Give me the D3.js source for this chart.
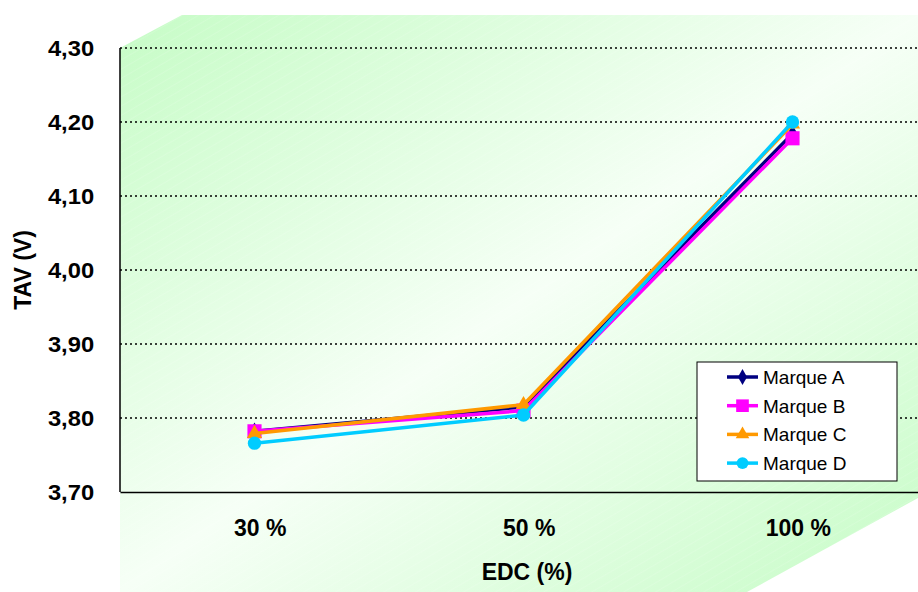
<!DOCTYPE html>
<html>
<head>
<meta charset="utf-8">
<script src="https://cdn.jsdelivr.net/npm/d3@7"></script>
<style>
  html, body { margin: 0; padding: 0; background: #ffffff; }
  svg { display: block; font-family: Arial, "Liberation Sans", sans-serif; }
</style>
</head>
<body>
<svg id="chart" width="918" height="592"></svg>
<script>
// Data
const categories = ['30 %', '50 %', '100 %'];
const yTicks = [3.7, 3.8, 3.9, 4.0, 4.1, 4.2, 4.3];
const seriesNames = ['Marque A', 'Marque B', 'Marque C', 'Marque D'];
const marqueA = [3.782, 3.815, 4.184];
const marqueB = [3.782, 3.810, 4.178];
const marqueC = [3.779, 3.818, 4.197];
const marqueD = [3.766, 3.804, 4.200];

const seriesStyle = [
  { color: '#000080', symbol: d3.symbolDiamond, size: 90 },
  { color: '#ff00ff', symbol: d3.symbolSquare, size: 200 },
  { color: '#ff9900', symbol: d3.symbolTriangle, size: 100 },
  { color: '#00ccff', symbol: d3.symbolCircle, size: 140 }
];
const seriesValues = [marqueA, marqueB, marqueC, marqueD];

const width = 918, height = 592;
const margin = { top: 48, left: 120, bottom: 100 };
const plotBottom = height - margin.bottom;

const svg = d3.select('#chart');
const defs = svg.append('defs');

// Background gradient (light green at corners, almost white in the middle)
const grad = defs.append('linearGradient')
  .attr('id', 'bg').attr('x1', '0').attr('y1', '0').attr('x2', '1').attr('y2', '1');
grad.append('stop').attr('offset', '0%').attr('stop-color', '#c6fcc6');
grad.append('stop').attr('offset', '50%').attr('stop-color', '#f6fff6');
grad.append('stop').attr('offset', '100%').attr('stop-color', '#c6fcc6');

const hatch = defs.append('pattern')
  .attr('id', 'hatch').attr('width', 8).attr('height', 8)
  .attr('patternUnits', 'userSpaceOnUse')
  .attr('patternTransform', 'rotate(-30)');
hatch.append('line')
  .attr('x1', 0).attr('y1', 0).attr('x2', 8).attr('y2', 0)
  .attr('stroke', '#ffffff').attr('stroke-opacity', 0.25).attr('stroke-width', 1);

const bgShape = [[120, 48], [182, 15], [918, 15], [918, 498], [747, 592], [120, 592]];
svg.append('polygon')
  .attr('points', bgShape.map(p => p.join(',')).join(' '))
  .attr('fill', 'url(#bg)');
svg.append('polygon')
  .attr('points', bgShape.map(p => p.join(',')).join(' '))
  .attr('fill', 'url(#hatch)');

// Scales
const x = d3.scaleBand().domain(categories).range([margin.left, 927]).padding(0);
const y = d3.scaleLinear().domain([3.7, 4.3]).range([plotBottom, margin.top]);

// Gridlines
svg.append('g')
  .selectAll('line')
  .data(yTicks.slice(1))
  .join('line')
  .attr('x1', margin.left).attr('x2', width)
  .attr('y1', d => y(d)).attr('y2', d => y(d))
  .attr('stroke', '#000000')
  .attr('stroke-width', 1.5)
  .attr('stroke-dasharray', '2,3');

// Y axis
const yAxis = svg.append('g')
  .attr('transform', `translate(${margin.left},0)`)
  .call(d3.axisLeft(y).tickValues(yTicks).tickSize(0).tickPadding(24)
    .tickFormat(d => d3.format('.2f')(d).replace('.', ',')));
yAxis.select('.domain').remove();
yAxis.selectAll('text')
  .attr('fill', '#000')
  .style('font-size', '22px')
  .style('font-weight', 'bold')
  .attr('transform', 'scale(1.08,1)')
  .attr('dy', '0.35em');

svg.append('line')
  .attr('x1', margin.left).attr('x2', margin.left)
  .attr('y1', margin.top).attr('y2', plotBottom)
  .attr('stroke', '#000').attr('stroke-width', 1.5);

// X axis
const xAxis = svg.append('g')
  .attr('transform', `translate(0,${plotBottom})`)
  .call(d3.axisBottom(x).tickSize(0).tickPadding(28));
xAxis.select('.domain').attr('stroke', '#000').attr('stroke-width', 1.5);
xAxis.selectAll('text')
  .attr('fill', '#000')
  .style('font-size', '23px')
  .style('font-weight', 'bold')
  .attr('dx', '0.25em');

// Axis titles
svg.append('text')
  .attr('transform', 'translate(31,270) rotate(-90)')
  .attr('text-anchor', 'middle')
  .style('font-size', '23px')
  .style('font-weight', 'bold')
  .text('TAV (V)');

svg.append('text')
  .attr('x', 527).attr('y', 580)
  .attr('text-anchor', 'middle')
  .style('font-size', '23px')
  .style('font-weight', 'bold')
  .text('EDC (%)');

// Series
const cx = c => x(c) + x.bandwidth() / 2;
const line = d3.line().x((d, i) => cx(categories[i])).y(d => y(d));

seriesValues.forEach((vals, s) => {
  const st = seriesStyle[s];
  const g = svg.append('g');
  g.append('path')
    .datum(vals)
    .attr('d', line)
    .attr('fill', 'none')
    .attr('stroke', st.color)
    .attr('stroke-width', 3.5)
    .attr('stroke-linejoin', 'round');
  g.selectAll('path.mk')
    .data(vals)
    .join('path')
    .attr('class', 'mk')
    .attr('d', d3.symbol().type(st.symbol).size(st.size))
    .attr('transform', (d, i) => `translate(${cx(categories[i])},${y(d)})`)
    .attr('fill', st.color);
});

// Legend
const legend = svg.append('g').attr('transform', 'translate(697,362)');
legend.append('rect')
  .attr('width', 200).attr('height', 119)
  .attr('fill', '#ffffff').attr('stroke', '#000').attr('stroke-width', 1);

const items = legend.selectAll('g.item')
  .data(seriesNames)
  .join('g')
  .attr('class', 'item')
  .attr('transform', (d, i) => `translate(0,${15 + i * 28.7})`);
items.append('line')
  .attr('x1', 30).attr('x2', 61)
  .attr('stroke', (d, i) => seriesStyle[i].color)
  .attr('stroke-width', 3.5);
items.append('path')
  .attr('d', (d, i) => d3.symbol().type(seriesStyle[i].symbol).size(seriesStyle[i].size * 0.8)())
  .attr('transform', 'translate(45.5,0)')
  .attr('fill', (d, i) => seriesStyle[i].color);
items.append('text')
  .attr('x', 66).attr('dy', '0.36em')
  .style('font-size', '19px')
  .attr('fill', '#000')
  .text(d => d);
</script>
</body>
</html>
